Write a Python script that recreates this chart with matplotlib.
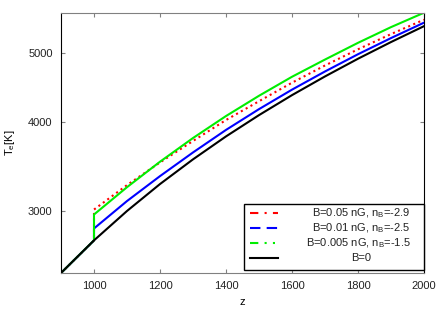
import numpy as np
import matplotlib
matplotlib.use('Agg')
import matplotlib.pyplot as plt
from matplotlib.lines import Line2D
from matplotlib.ticker import FixedLocator, NullLocator, FixedFormatter

plt.rcParams['font.family'] = ['Liberation Sans', 'DejaVu Sans']
plt.rcParams['font.size'] = 8

# ---------------------------------------------------------------------------- #
# values
z_cmb = [900, 1000, 1100, 1200, 1300, 1400, 1500, 1600, 1700, 1800, 1900, 2000]
T_cmb = [2455, 2728, 3000, 3273, 3545, 3818, 4090, 4363, 4635, 4908, 5180, 5453]

# magnetic cases follow B=0 until z=1000, then jump
z_mag = [900, 1000, 1000, 1100, 1200, 1300, 1400, 1500, 1600, 1700, 1800, 1900, 2000]
T_red = [2455, 2728, 3014, 3262, 3510, 3762, 4026, 4278, 4542, 4802, 5060, 5315, 5568]
T_blue = [2455, 2728, 2835, 3098, 3358, 3625, 3899, 4170, 4441, 4710, 4980, 5247, 5515]
T_green = [2455, 2728, 2966, 3240, 3518, 3798, 4078, 4354, 4630, 4895, 5167, 5436, 5695]

labels = ['B=0.05 nG, n$_\\mathregular{B}$=-2.9',
          'B=0.01 nG, n$_\\mathregular{B}$=-2.5',
          'B=0.005 nG, n$_\\mathregular{B}$=-1.5',
          'B=0']
xticks = [1000, 1200, 1400, 1600, 1800, 2000]
yticks = [3000, 4000, 5000]

# ---------------------------------------------------------------------------- #
fig = plt.figure(figsize=(4.43, 3.10), dpi=100)
ax = fig.add_axes([61/443, 1-273/310, (424-61)/443, (273-13)/310])

ax.plot(z_mag, T_red, color='#ff0000', lw=1.5, ls=':')
ax.plot(z_mag, T_blue, color='#0000ff', lw=1.5)
ax.plot(z_mag, T_green, color='#00ee00', lw=1.5)
ax.plot(z_cmb, T_cmb, color='black', lw=1.5)

ax.set_yscale('log')
ax.set_xlim(900, 2000)
ax.set_ylim(2455, 5690)
ax.xaxis.set_major_locator(FixedLocator(xticks))
ax.yaxis.set_major_locator(FixedLocator(yticks))
ax.yaxis.set_major_formatter(FixedFormatter([str(t) for t in yticks]))
ax.yaxis.set_minor_locator(NullLocator())
ax.tick_params(direction='in', length=3, color='#808080', top=True, right=True,
               labelcolor='#222222', labelsize=8, pad=6)
for s in ['top', 'bottom']:
    ax.spines[s].set_color('#808080')
for s in ['left', 'right']:
    ax.spines[s].set_color('black')

ax.set_xlabel('z', fontsize=8, labelpad=4)
ax.set_ylabel('T$_\\mathregular{e}$[K]', fontsize=8, labelpad=8)

# legend: samples on the left, text added afterwards
handles = [Line2D([], [], color='#ff0000', lw=1.5, ls=(0, (4, 3, 1, 3))),
           Line2D([], [], color='#0000ff', lw=1.5, ls=(0, (5, 3))),
           Line2D([], [], color='#00ee00', lw=1.5, ls=(0, (4, 3, 1, 3, 1, 3))),
           Line2D([], [], color='black', lw=1.5)]
x0 = (244-61)/(424-61)
leg = ax.legend(handles, ['']*4, loc='lower right', mode='expand',
                bbox_to_anchor=(x0, 0.013, 1-x0, 0.3), borderaxespad=0,
                fancybox=False, framealpha=1, edgecolor='black',
                handlelength=2.6, labelspacing=0.45, borderpad=0.5,
                handletextpad=0.5)
leg.get_frame().set_linewidth(1.0)

fig.canvas.draw()
inv = fig.transFigure.inverted()
for i, (h, lab) in enumerate(zip(leg.get_lines(), labels)):
    bb = h.get_window_extent()
    yc = inv.transform((0, (bb.y0+bb.y1)/2))[1]
    if i == 3:
        fig.text(361/443, yc, lab, ha='center', va='center', fontsize=8, color='#222222')
    else:
        fig.text(411/443, yc, lab, ha='right', va='center', fontsize=8, color='#222222')

fig.savefig('out.png', dpi=100)
